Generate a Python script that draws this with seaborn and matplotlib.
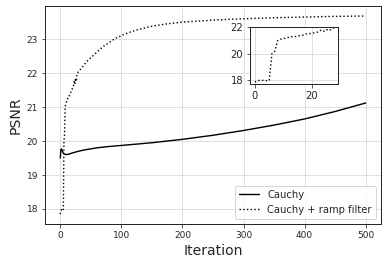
import numpy as np
import pandas as pd
import seaborn as sns
import matplotlib.pyplot as plt

cauchy_iter = [0, 1, 2, 3, 5, 8, 10, 15, 20, 30, 40, 60, 80, 100, 150, 200, 250,
               300, 350, 400, 450, 500]
cauchy_psnr = [19.50, 19.75, 19.77, 19.72, 19.64, 19.61, 19.60, 19.62, 19.65, 19.70,
               19.74, 19.80, 19.84, 19.87, 19.95, 20.05, 20.17, 20.31, 20.47,
               20.65, 20.87, 21.12]

# Cauchy + ramp filter
ramp_iter = list(range(0, 29)) + [30, 35, 40, 45, 50, 60, 70, 80, 90, 100, 110, 125,
                                  150, 175, 200, 250, 300, 350, 400, 450, 500]
ramp_psnr = [17.85, 17.95, 17.98, 17.97, 17.95, 17.95, 20.00, 20.20, 21.00, 21.10,
             21.15, 21.20, 21.25, 21.30, 21.30, 21.35, 21.38, 21.42, 21.50, 21.52,
             21.55, 21.60, 21.65, 21.78, 21.70, 21.85, 21.75, 21.92, 22.00,
             22.05, 22.15, 22.27, 22.37, 22.45, 22.62, 22.78, 22.90, 23.02, 23.10,
             23.18, 23.27, 23.38, 23.45, 23.50, 23.56, 23.60, 23.63, 23.65, 23.67,
             23.68]

n_inset = 29

sns.set_style("ticks")
plt.rcParams['font.family'] = ['DejaVu Sans']

fig = plt.figure(figsize=(386 / 72, 266 / 72), dpi=72)
ax = fig.add_axes([0.1166, 0.158, 0.8704, 0.819])

sns.lineplot(x=cauchy_iter, y=cauchy_psnr, ax=ax, color='black', lw=1.4,
             label='Cauchy')
sns.lineplot(x=ramp_iter, y=ramp_psnr, ax=ax, color='black', lw=1.4,
             linestyle=':', label='Cauchy + ramp filter')

ax.grid(True, color='#d8d8d8', lw=0.8)
ax.set_xlabel('Iteration', fontsize=14)
ax.set_ylabel('PSNR', fontsize=14)
ax.tick_params(labelsize=9, length=3.5, color='#333333')
for s in ax.spines.values():
    s.set_color('#262626')
    s.set_linewidth(1.0)
ax.set_xticks([0, 100, 200, 300, 400, 500])
ax.set_yticks([18, 19, 20, 21, 22, 23])
leg = ax.legend(loc='lower right', fontsize=10, frameon=True, framealpha=0.8,
                edgecolor='#cccccc', fancybox=True)

# inset: first iterations of the filtered run
axin = fig.add_axes([0.6477, 0.683, 0.227, 0.214])
sns.lineplot(x=ramp_iter[:n_inset], y=ramp_psnr[:n_inset], ax=axin, color='black',
             lw=1.4, linestyle=':')
axin.grid(True, color='#d8d8d8', lw=0.8)
axin.set_xlim(-1.7, 29.0)
axin.set_ylim(17.67, 22.0)
axin.set_xticks([0, 20])
axin.set_yticks([18, 20, 22])
axin.tick_params(labelsize=10, length=3.5, color='#333333')
for s in axin.spines.values():
    s.set_color('#262626')
    s.set_linewidth(1.0)

fig.savefig('out.png', dpi=72)
